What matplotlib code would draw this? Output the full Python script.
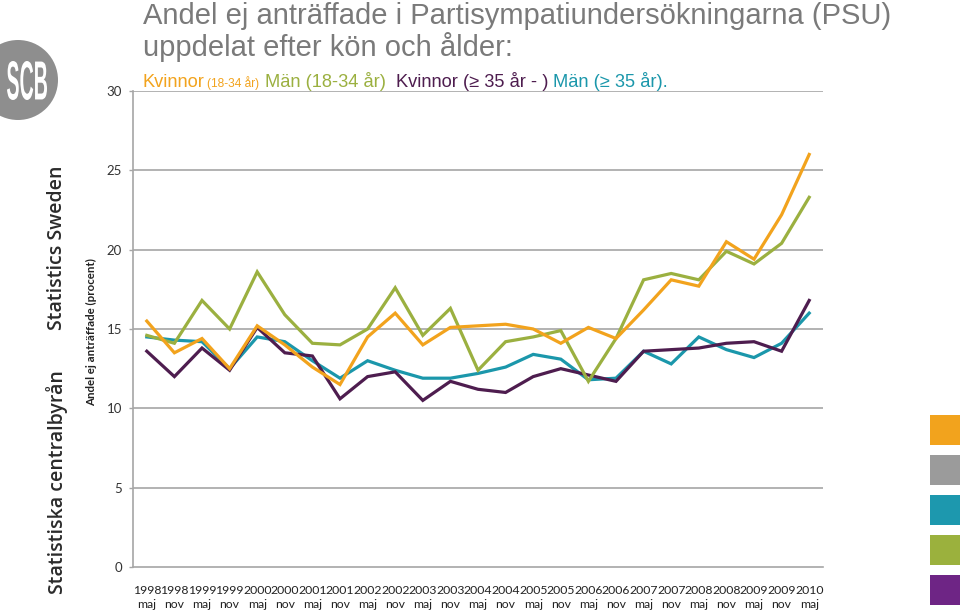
import matplotlib
matplotlib.use("Agg")
import matplotlib.pyplot as plt
import numpy as np
from matplotlib.patches import Ellipse, Rectangle, PathPatch
from matplotlib.textpath import TextPath
from matplotlib.font_manager import FontProperties
from matplotlib.transforms import Affine2D

# ---------------- data ----------------
years = ["1998", "1998", "1999", "1999", "2000", "2000", "2001", "2001", "2002", "2002",
         "2003", "2003", "2004", "2004", "2005", "2005", "2006", "2006", "2007", "2007",
         "2008", "2008", "2009", "2009", "2010"]
months = ["maj", "nov"] * 12 + ["maj"]

kvinnor_18_34 = [15.5, 13.5, 14.4, 12.5, 15.2, 14.0, 12.6, 11.5, 14.5, 16.0,
                 14.0, 15.1, 15.2, 15.3, 15.0, 14.1, 15.1, 14.4, 16.2, 18.1,
                 17.7, 20.5, 19.4, 22.2, 26.0]
man_18_34 = [14.6, 14.1, 16.8, 15.0, 18.6, 15.9, 14.1, 14.0, 15.0, 17.6,
             14.6, 16.3, 12.4, 14.2, 14.5, 14.9, 11.7, 14.4, 18.1, 18.5,
             18.1, 19.9, 19.1, 20.4, 23.3]
kvinnor_35 = [13.6, 12.0, 13.8, 12.4, 15.1, 13.5, 13.3, 10.6, 12.0, 12.3,
              10.5, 11.7, 11.2, 11.0, 12.0, 12.5, 12.1, 11.7, 13.6, 13.7,
              13.8, 14.1, 14.2, 13.6, 16.8]
man_35 = [14.5, 14.3, 14.2, 12.5, 14.5, 14.2, 13.0, 11.9, 13.0, 12.4,
          11.9, 11.9, 12.2, 12.6, 13.4, 13.1, 11.8, 11.9, 13.6, 12.8,
          14.5, 13.7, 13.2, 14.1, 16.0]
y_ticks = [0, 5, 10, 15, 20, 25, 30]

# ---------------- style ----------------
c_orange = "#F2A31D"
c_green = "#9BB040"
c_teal = "#1B97AB"
c_purple = "#4E1D4F"
grid_c = "#A6A6A6"
W, H = 960, 612

fig = plt.figure(figsize=(9.6, 6.12), dpi=100)
fig.patch.set_facecolor("white")

ax = fig.add_axes([133 / W, 1 - 567 / H, (823 - 133) / W, (567 - 91) / H])
x = np.arange(len(years))
for vals, col in [(man_35, c_teal), (kvinnor_35, c_purple), (man_18_34, c_green), (kvinnor_18_34, c_orange)]:
    ax.plot(x, vals, color=col, lw=2.3, solid_joinstyle="miter", zorder=3)

ax.set_xlim(-0.5, len(years) - 0.5)
ax.set_ylim(0, 30)
ax.set_yticks(y_ticks)
ax.set_yticklabels([str(t) for t in y_ticks], fontfamily="Lato", fontsize=9.5, color="#333333")
ax.set_xticks(x)
ax.set_xticklabels([f"{y}\n{m}" for y, m in zip(years, months)], fontfamily="Lato",
                   fontsize=8.8, color="#222222", linespacing=1.3)
ax.tick_params(axis="x", length=0, pad=13)
ax.tick_params(axis="y", length=3, color=grid_c, width=1, pad=5)
for t in y_ticks[1:]:
    ax.axhline(t, color=grid_c, lw=1.2, zorder=1)
for s in ["top", "right"]:
    ax.spines[s].set_visible(False)
for s in ["left", "bottom"]:
    ax.spines[s].set_color(grid_c)
    ax.spines[s].set_linewidth(1.2)

ax.set_ylabel("Andel ej anträffade (procent)", fontfamily="Lato", fontweight="bold",
              fontsize=8.3, color="#222222", labelpad=0)
ax.yaxis.set_label_coords((97 - 133) / (823 - 133), (567 - 332) / (567 - 91))

# ---------------- title ----------------
tfont = ["Liberation Sans", "DejaVu Sans"]
title_gray = "#7A7A7A"
fig.text(143 / W, 1 - 24 / H, "Andel ej anträffade i Partisympatiundersökningarna (PSU)",
         fontfamily=tfont, fontsize=21, color=title_gray, va="baseline", ha="left")
fig.text(143 / W, 1 - 56 / H, "uppdelat efter kön och ålder:",
         fontfamily=tfont, fontsize=21, color=title_gray, va="baseline", ha="left")

# third line: coloured series names, chained and fitted to the reference width
parts = [
    ("Kvinnor", c_orange, 1.0, 3),
    ("(18-34 år)", c_orange, 0.65, 6),
    ("Män (18-34 år)", c_green, 1.0, 10),
    ("Kvinnor (≥ 35 år - )", c_purple, 1.0, 5),
    ("Män (≥ 35 år).", c_teal, 1.0, 0),
]
x_start, x_end = 142, 668
base = 20.0
fig.canvas.draw()
renderer = fig.canvas.get_renderer()
tmp = []
for txt, col, rel, gap in parts:
    t = fig.text(0, 0, txt, fontfamily=tfont, fontsize=base * rel)
    tmp.append(t.get_window_extent(renderer).width)
    t.remove()
gaps = sum(p[3] for p in parts)
scale = (x_end - x_start - gaps) / sum(tmp)
cur = x_start
for (txt, col, rel, gap), w in zip(parts, tmp):
    fig.text(cur / W, 1 - 87 / H, txt, fontfamily=tfont, fontsize=base * rel * scale,
             color=col, va="baseline", ha="left")
    cur += w * scale + gap

# ---------------- sidebar ----------------
fig.patches.append(Ellipse((18 / W, 1 - 80 / H), 80 / W, 80 / H, transform=fig.transFigure,
                           facecolor="#8E8E8E", edgecolor="none"))
tp = TextPath((0, 0), "SCB", size=40,
              prop=FontProperties(family=["Liberation Sans"], weight="bold"))
bb = tp.get_extents()
sx = 40 / bb.width
sy = 39 / bb.height
tr = Affine2D().translate(-bb.x0, -bb.y0).scale(sx, sy).translate(7, H - 100)
fig.patches.append(PathPatch(tr.transform_path(tp), transform=None, facecolor="white", edgecolor="none"))

side_font = ["Open Sans", "DejaVu Sans"]
fig.text(57 / W, 1 - 248 / H, "Statistics Sweden", rotation=90, fontfamily=side_font,
         fontweight="semibold", fontsize=14, color="#2B2B2B", ha="center", va="center")
fig.text(57 / W, 1 - 482 / H, "Statistiska centralbyrån", rotation=90, fontfamily=side_font,
         fontweight="semibold", fontsize=14, color="#2B2B2B", ha="center", va="center")

# right colour squares
for y0, col in [(415, "#F2A31D"), (455, "#9B9B9B"), (495, "#1D98AE"), (535, "#9BB13D"), (575, "#6E2585")]:
    fig.patches.append(Rectangle((930 / W, 1 - (y0 + 30) / H), 30 / W, 30 / H,
                                 transform=fig.transFigure, facecolor=col, edgecolor="none"))

fig.savefig("out.png", dpi=100)
